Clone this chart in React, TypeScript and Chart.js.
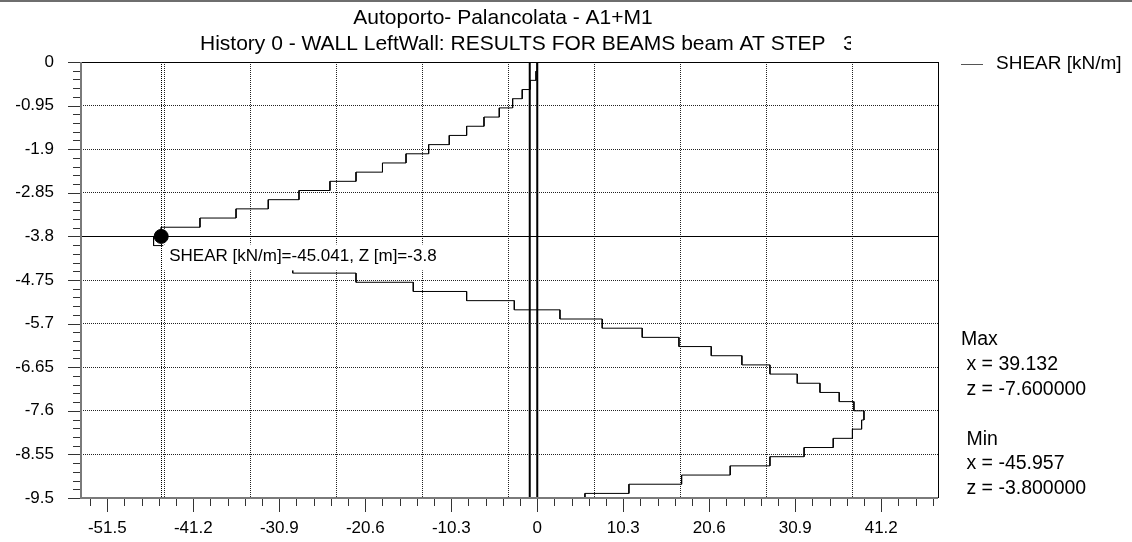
import React, { useEffect, useRef } from 'react';
import { Chart, registerables } from 'chart.js';

Chart.register(...registerables);

const FONT = "'Liberation Sans', Arial, sans-serif";

const chartTitle = 'Autoporto- Palancolata - A1+M1';
const chartSubtitle = 'History 0 - WALL LeftWall: RESULTS FOR BEAMS beam AT STEP   3';
const seriesName = 'SHEAR [kN/m]';

// Element boundaries along the wall, Z [m] (top to toe)
const nodeDepths = [
  0, -0.2, -0.4, -0.6, -0.8, -1.0, -1.2, -1.4, -1.6, -1.8,
  -2.0, -2.2, -2.4, -2.6, -2.8, -3.0, -3.2, -3.4, -3.6, -3.8,
  -4.0, -4.2, -4.4, -4.6, -4.8, -5.0, -5.2, -5.4, -5.6, -5.8,
  -6.0, -6.2, -6.4, -6.6, -6.8, -7.0, -7.2, -7.4, -7.6, -7.8,
  -8.0, -8.2, -8.4, -8.6, -8.8, -9.0, -9.2, -9.4, -9.5,
];

// Shear per element [kN/m], constant between consecutive nodes
const shearValues = [
  0, -0.15, -0.87, -1.8, -2.95, -4.55, -6.38, -8.46, -10.54, -13.01,
  -15.72, -18.54, -21.71, -24.83, -28.54, -32.22, -36.08, -40.4, -45.041, -45.957,
  -40.8, -35.2, -29.29, -21.71, -14.85, -8.46, -2.75, 2.72, 7.78, 12.57,
  16.97, 20.84, 24.51, 27.87, 31.14, 33.86, 36.17, 37.93, 39.132, 38.85,
  37.75, 35.45, 31.96, 27.87, 23.11, 17.29, 10.98, 5.71,
];

// Wall section outline (x extent)
const wallFaces = [-0.9, 0];

const xTickValues = [-51.5, -41.2, -30.9, -20.6, -10.3, 0, 10.3, 20.6, 30.9, 41.2];
const xGridValues = [-44.65, -34.35, -24.05, -13.75, -3.45, 6.85, 17.15, 27.45, 37.75];
const yTickValues = [0, -0.95, -1.9, -2.85, -3.8, -4.75, -5.7, -6.65, -7.6, -8.55, -9.5];

const X_MIN = -54.65;
const X_MAX = 48.0;
const X_MINOR_STEP = 2.06;
const Y_MINOR_STEP = 0.19;

// Picked point
const markerShear = -45.041;
const markerDepth = -3.8;

// Extremes
const maxShear = 39.132;
const maxDepth = -7.6;
const minShear = -45.957;
const minDepth = -3.8;

function stepPoints() {
  const pts: { x: number; y: number }[] = [];
  for (let k = 0; k < shearValues.length; k++) {
    pts.push({ x: shearValues[k], y: nodeDepths[k] });
    pts.push({ x: shearValues[k], y: nodeDepths[k + 1] });
  }
  return pts;
}

function wallPoints() {
  const top = nodeDepths[0];
  const toe = nodeDepths[nodeDepths.length - 1];
  return [
    { x: wallFaces[0], y: top },
    { x: wallFaces[1], y: top },
    { x: wallFaces[1], y: toe },
    { x: wallFaces[0], y: toe },
    { x: wallFaces[0], y: top },
  ];
}

const crisp = (v: number) => Math.round(v) + 0.5;

const decorPlugin = {
  id: 'shearDecor',
  beforeDatasetsDraw(chart: any) {
    const { ctx, chartArea: a } = chart;
    const xs = chart.scales.x;
    const ys = chart.scales.y;
    const px = crisp(xs.getPixelForValue(markerShear));
    const py = crisp(ys.getPixelForValue(markerDepth));
    ctx.save();
    ctx.strokeStyle = '#000';
    ctx.lineWidth = 1;
    ctx.beginPath();
    ctx.moveTo(a.left, py);
    ctx.lineTo(a.right, py);
    ctx.stroke();
    ctx.setLineDash([1, 1]);
    ctx.beginPath();
    ctx.moveTo(px, a.top);
    ctx.lineTo(px, a.bottom);
    ctx.stroke();
    ctx.restore();
  },
  afterDatasetsDraw(chart: any) {
    const { ctx, chartArea: a } = chart;
    const xs = chart.scales.x;
    const ys = chart.scales.y;
    ctx.save();

    // picked point label on a white box
    const px = xs.getPixelForValue(markerShear);
    const py = ys.getPixelForValue(markerDepth);
    const label = `${seriesName}=${markerShear}, Z [m]=${markerDepth}`;
    ctx.font = `17px ${FONT}`;
    const lw = ctx.measureText(label).width;
    ctx.fillStyle = '#fff';
    ctx.fillRect(px + 2, py + 8, lw + 10, 26);
    ctx.fillStyle = '#000';
    ctx.textBaseline = 'middle';
    ctx.textAlign = 'left';
    ctx.fillText(label, px + 8, py + 20);

    // plot frame
    ctx.lineWidth = 1;
    ctx.strokeStyle = '#000';
    ctx.beginPath();
    ctx.moveTo(a.left, crisp(a.top));
    ctx.lineTo(a.right, crisp(a.top));
    ctx.moveTo(crisp(a.right), a.top);
    ctx.lineTo(crisp(a.right), a.bottom);
    ctx.stroke();
    ctx.strokeStyle = '#7a7a7a';
    ctx.lineWidth = 2;
    ctx.beginPath();
    ctx.moveTo(Math.round(a.left), a.top);
    ctx.lineTo(Math.round(a.left), Math.round(a.bottom) + 1);
    ctx.moveTo(Math.round(a.left) - 1, Math.round(a.bottom));
    ctx.lineTo(a.right, Math.round(a.bottom));
    ctx.stroke();

    // tick marks: x axis
    ctx.strokeStyle = '#333';
    ctx.lineWidth = 1;
    const bottom = Math.round(a.bottom) + 1;
    ctx.beginPath();
    const x0 = xTickValues[0];
    for (let j = -2; j < 60; j++) {
      const v = x0 + j * X_MINOR_STEP;
      if (v < X_MIN || v > X_MAX) continue;
      const major = j % 5 === 0;
      const p = crisp(xs.getPixelForValue(v));
      ctx.moveTo(p, bottom);
      ctx.lineTo(p, bottom + (major ? 13 : 7));
    }
    // tick marks: y axis
    const left = Math.round(a.left) - 1;
    for (let j = 0; j <= 50; j++) {
      const v = -j * Y_MINOR_STEP;
      if (v < -9.5 - 1e-9) continue;
      const major = j % 5 === 0;
      const p = crisp(ys.getPixelForValue(v));
      ctx.moveTo(left, p);
      ctx.lineTo(left - (major ? 12 : 7), p);
    }
    ctx.stroke();

    // legend
    ctx.strokeStyle = '#555';
    ctx.beginPath();
    ctx.moveTo(961, 64.5);
    ctx.lineTo(983, 64.5);
    ctx.stroke();
    ctx.fillStyle = '#000';
    ctx.font = `19px ${FONT}`;
    ctx.textAlign = 'left';
    ctx.textBaseline = 'middle';
    ctx.fillText(seriesName, 996, 64);

    // extremes
    ctx.font = `19.5px ${FONT}`;
    ctx.fillText('Max', 961, 340);
    ctx.fillText(` x = ${maxShear.toFixed(3)}`, 961, 365);
    ctx.fillText(` z = ${maxDepth.toFixed(6)}`, 961, 390);
    ctx.fillText(' Min', 961, 440);
    ctx.fillText(` x = ${minShear.toFixed(3)}`, 961, 464);
    ctx.fillText(` z = ${minDepth.toFixed(6)}`, 961, 489);

    // titles
    ctx.font = `21px ${FONT}`;
    ctx.textAlign = 'center';
    ctx.fillText(chartTitle, 503, 18);
    ctx.save();
    ctx.beginPath();
    ctx.rect(0, 30, 851, 30);
    ctx.clip();
    ctx.textAlign = 'left';
    ctx.fillText(chartSubtitle, 200, 44);
    ctx.restore();

    // top edge rule
    ctx.fillStyle = '#6e6e6e';
    ctx.fillRect(0, 0, chart.width, 2);
    ctx.restore();
  },
};

export default function App() {
  const ref = useRef<HTMLCanvasElement | null>(null);

  useEffect(() => {
    if (!ref.current) return;
    const tickFont = { family: FONT, size: 17 };
    const chart = new Chart(ref.current, {
      type: 'scatter',
      data: {
        datasets: [
          {
            label: 'picked',
            data: [{ x: markerShear, y: markerDepth }],
            pointRadius: 7,
            pointBackgroundColor: '#000',
            pointBorderColor: '#000',
            showLine: false,
          },
          {
            label: seriesName,
            data: stepPoints(),
            showLine: true,
            borderColor: '#000',
            borderWidth: 1,
            pointRadius: 0,
            tension: 0,
          },
          {
            label: 'wall',
            data: wallPoints(),
            showLine: true,
            borderColor: '#000',
            borderWidth: 2,
            pointRadius: 0,
            tension: 0,
          },
        ],
      },
      options: {
        animation: false,
        responsive: false,
        devicePixelRatio: 1,
        layout: { padding: { left: 0, top: 62, right: 194, bottom: 0 } },
        plugins: { legend: { display: false }, tooltip: { enabled: false } },
        scales: {
          x: {
            type: 'linear',
            position: 'bottom',
            min: X_MIN,
            max: X_MAX,
            afterBuildTicks: (s: any) => {
              s.ticks = xTickValues.map((v) => ({ value: v }));
            },
            afterFit: (s: any) => {
              s.height = 44;
            },
            grid: { display: false, drawTicks: false },
            border: { display: false },
            ticks: {
              autoSkip: false,
              maxRotation: 0,
              padding: 20,
              color: '#000',
              font: tickFont,
              callback: (v: any) => String(v),
            },
          },
          xg: {
            type: 'linear',
            axis: 'x',
            position: 'top',
            min: X_MIN,
            max: X_MAX,
            afterBuildTicks: (s: any) => {
              s.ticks = xGridValues.map((v) => ({ value: v }));
            },
            afterFit: (s: any) => {
              s.height = 0;
            },
            grid: { color: '#222', lineWidth: 1, drawTicks: false },
            border: { display: false, dash: [1, 1] },
            ticks: { display: false },
          },
          y: {
            type: 'linear',
            min: -9.5,
            max: 0,
            afterBuildTicks: (s: any) => {
              s.ticks = yTickValues.map((v) => ({ value: v }));
            },
            afterFit: (s: any) => {
              s.width = 81;
            },
            grid: { color: '#222', lineWidth: 1, drawTicks: false },
            border: { display: false, dash: [1, 1] },
            ticks: {
              padding: 27,
              color: '#000',
              font: tickFont,
              callback: (v: any) => String(v),
            },
          },
        },
      },
      plugins: [decorPlugin],
    });
    return () => chart.destroy();
  }, []);

  return (
    <div style={{ position: 'fixed', left: 0, top: 0, width: 1132, height: 542, background: '#fff' }}>
      <canvas ref={ref} width={1132} height={542} />
    </div>
  );
}
